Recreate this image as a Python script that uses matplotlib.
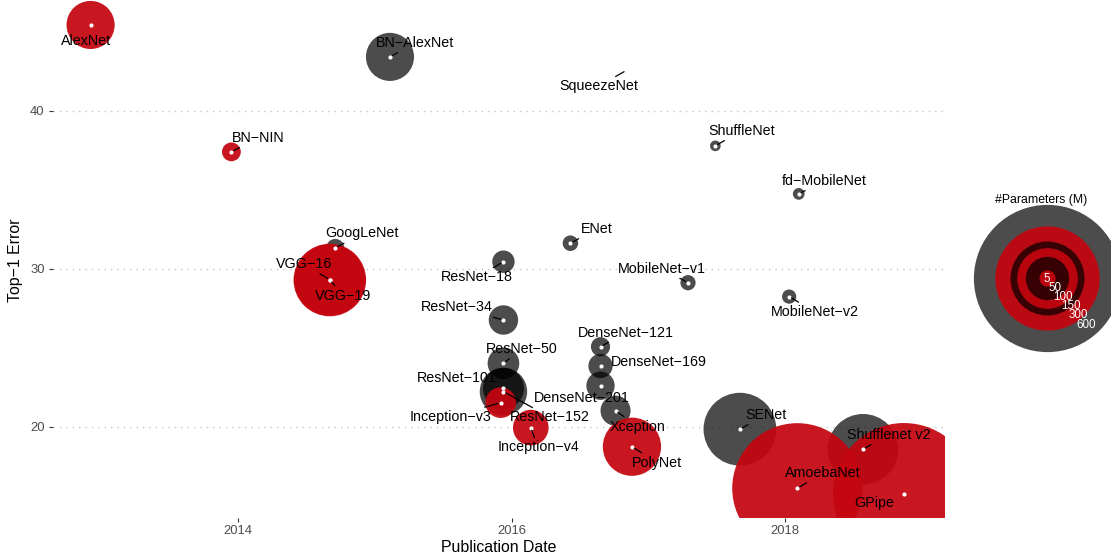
import numpy as np
import matplotlib
matplotlib.use('Agg')
import matplotlib.pyplot as plt

plt.rcParams['font.family'] = ['Liberation Sans', 'DejaVu Sans']

m = '\u2212'

# model data
models = ['AlexNet', 'BN' + m + 'AlexNet', 'SqueezeNet', 'ShuffleNet', 'fd' + m + 'MobileNet',
          'BN' + m + 'NIN', 'GoogLeNet', 'VGG' + m + '16', 'VGG' + m + '19',
          'ResNet' + m + '18', 'ResNet' + m + '34', 'ResNet' + m + '50', 'ResNet' + m + '101',
          'ResNet' + m + '152', 'Inception' + m + 'v3', 'Inception' + m + 'v4',
          'DenseNet' + m + '121', 'DenseNet' + m + '169', 'DenseNet' + m + '201', 'Xception',
          'ENet', 'MobileNet' + m + 'v1', 'MobileNet' + m + 'v2', 'PolyNet', 'SENet',
          'Shufflenet v2', 'AmoebaNet', 'GPipe']
pub_date = [2012.92, 2015.11, 2016.84, 2017.49, 2018.10,
            2013.95, 2014.71, 2014.67, 2014.67,
            2015.94, 2015.94, 2015.94, 2015.94,
            2015.94, 2015.92, 2016.14,
            2016.65, 2016.65, 2016.65, 2016.76,
            2016.43, 2017.29, 2018.03, 2016.88, 2017.67,
            2018.57, 2018.09, 2018.87]
top1_error = [45.42, 43.40, 42.55, 37.77, 34.73,
              37.39, 31.31, 29.28, 29.28,
              30.44, 26.75, 24.01, 22.43,
              22.22, 21.52, 19.94,
              25.06, 23.84, 22.59, 21.01,
              31.61, 29.11, 28.23, 18.73, 19.84,
              18.57, 16.10, 15.74]
params_m = [62, 62, np.nan, 0.9, 1.6,
            7.6, 6.8, 138, 144,
            11.7, 21.8, 25.6, 44.5,
            60.2, 23.8, 33,
            8.0, 14.1, 20.0, 22.9,
            4.5, 4.2, 3.4, 92, 145,
            136, 469, 557]
group = ['r', 'g', 'g', 'g', 'g',
         'r', 'g', 'r', 'r',
         'g', 'g', 'g', 'g',
         'g', 'r', 'r',
         'g', 'g', 'g', 'g',
         'g', 'g', 'g', 'r', 'g',
         'g', 'r', 'r']

legend_breaks = [600, 300, 150, 100, 50, 5]

# label placement (pixel offset from the point, y downwards) and whether a segment is drawn
label_off = [(-5, 16.5), (25, -14), (-28, 16), (26, -15), (26, -13),
             (26.5, -14), (26.7, -14.5), (-25.3, -16), (13.7, 15.5),
             (-26.6, 15.8), (-46.3, -12.5), (18.7, -14.3), (-46.3, -9.8),
             (46.7, 25.8), (-50.6, 14.3), (7.3, 19.8),
             (25.5, -14.2), (58.5, -3.5), (-19, 11.8), (22.5, 15.8),
             (26, -14.3), (-26.2, -14.2), (26, 15.3), (25.3, 15.8), (25.7, -14.3),
             (25.4, -14.3), (25.7, -15.3), (-30, 9)]
segment = [False, True, True, True, True,
           True, True, True, True,
           True, True, True, False,
           True, True, True,
           True, False, False, True,
           True, True, True, True, True,
           True, True, False]

DPI = 100
W, H = 1111, 560
col = {'g': (0, 0, 0, 0.70), 'r': (0.77, 0.02, 0.06, 0.93)}


def size_pt2(v):
    r_px = np.sqrt(20 + 9.0 * np.asarray(v, dtype=float))
    return (2 * r_px * 72 / DPI) ** 2


fig = plt.figure(figsize=(W / DPI, H / DPI), dpi=DPI)
ax = fig.add_axes([53 / W, 42 / H, 892 / W, 518 / H])
ax.set_xlim(2012.645, 2019.17)
ax.set_ylim(14.22, 47.0)

x = np.array(pub_date)
y = np.array(top1_error)
p = np.array(params_m)
g = np.array(group)

for key in ['g', 'r']:
    sel = (g == key) & ~np.isnan(p)
    ax.scatter(x[sel], y[sel], s=size_pt2(p[sel]), color=col[key], linewidths=0, zorder=2)

has = ~np.isnan(p)
ax.scatter(x[has], y[has], s=9, color='white', linewidths=0, zorder=3)

for i, name in enumerate(models):
    dx, dy = label_off[i]
    ap = dict(arrowstyle='-', lw=0.9, color='black', shrinkA=0, shrinkB=2) if segment[i] else None
    ax.annotate(name, xy=(x[i], y[i]), xytext=(dx * 72 / DPI, -dy * 72 / DPI),
                textcoords='offset points', ha='center', va='center', fontsize=10.3,
                color='black', arrowprops=ap, zorder=4)

for v in [20, 30, 40]:
    ax.axhline(v, color='#c4c4c4', lw=1.0, linestyle=(0, (1, 3.6)), zorder=1)

ax.set_xticks([2014, 2016, 2018])
ax.set_xticklabels(['2014', '2016', '2018'])
ax.set_yticks([20, 30, 40])
ax.set_yticklabels(['20', '30', '40'])
for s in ax.spines.values():
    s.set_visible(False)
ax.tick_params(axis='both', length=3, width=0.8, color='#333333', labelcolor='#4d4d4d',
               labelsize=9.4)
ax.tick_params(axis='x', pad=2)
ax.tick_params(axis='y', pad=3)

fig.text(16 / W, 1 - 260 / H, 'Top' + m + '1 Error', rotation=90, ha='center', va='center',
         fontsize=11.4)
fig.text(499 / W, 1 - 547 / H, 'Publication Date', ha='center', va='center', fontsize=11.4)

# size legend
lax = fig.add_axes([0, 0, 1, 1], facecolor='none')
lax.set_xlim(0, W)
lax.set_ylim(H, 0)
lax.axis('off')
cx, cy = 1047, 278
ring = ['g', 'r'] * 3
for k, v in enumerate(legend_breaks):
    lax.scatter([cx], [cy], s=size_pt2(v), color=col[ring[k]], linewidths=0, zorder=2)
for k, v in enumerate(legend_breaks[::-1]):
    lax.text(cx + k * 7.9, cy + 1 + k * 9.1, str(v), color='white', fontsize=8.4,
             ha='center', va='center', zorder=3)
lax.text(1041, 200, '#Parameters (M)', ha='center', va='center', fontsize=8.8)

fig.savefig('out.png', dpi=DPI)
